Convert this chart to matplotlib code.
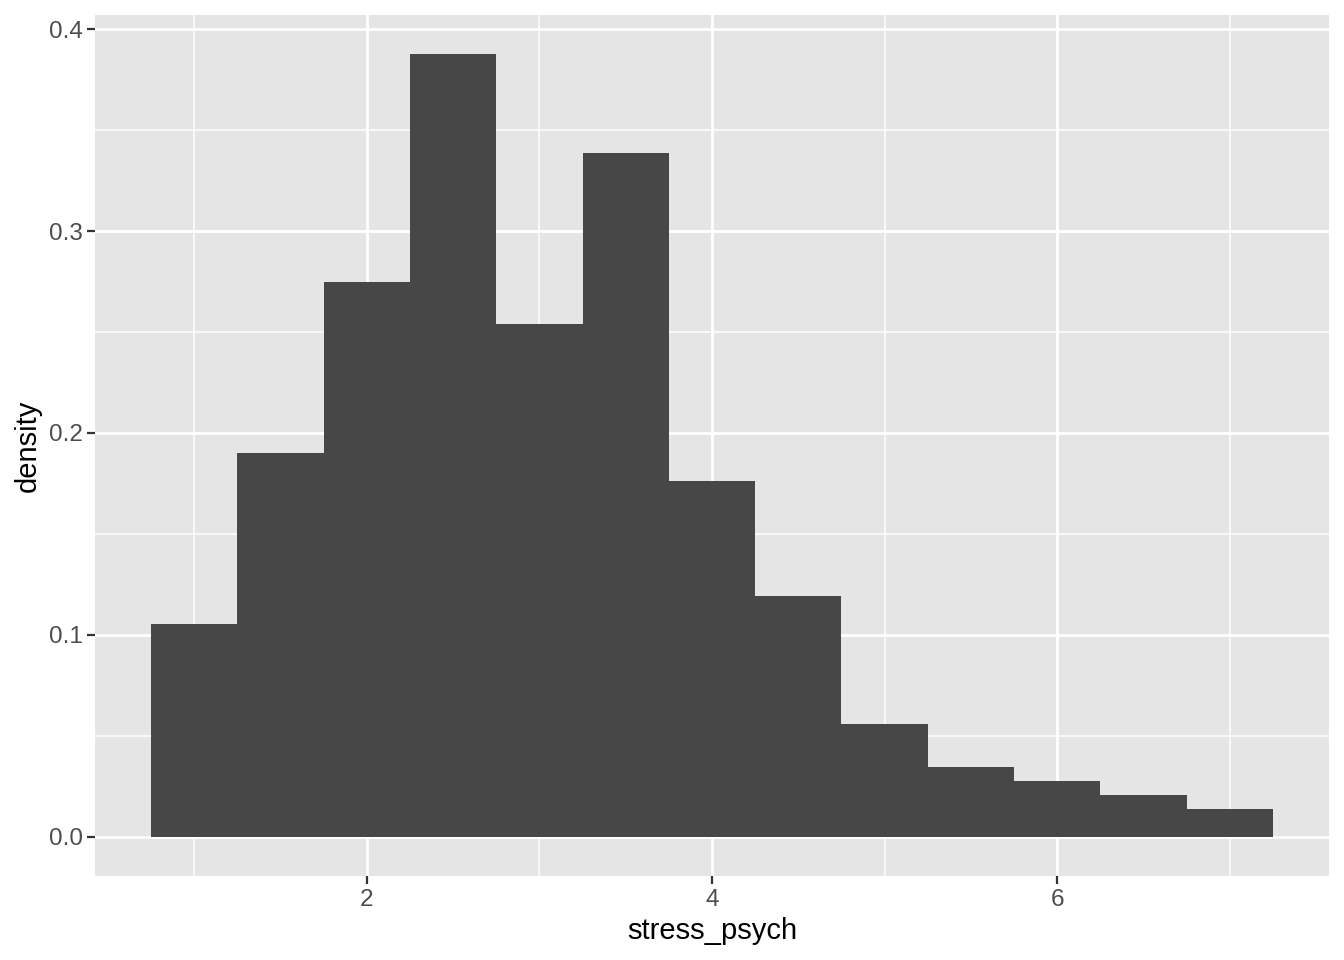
import numpy as np
import matplotlib
matplotlib.use("Agg")
import matplotlib.pyplot as plt

plt.rcParams['font.family'] = ['Liberation Sans', 'DejaVu Sans']

# histogram bins (stress_psych), width 0.5
bin_edges = np.arange(0.75, 7.26, 0.5)
density = [0.1056, 0.1903, 0.2746, 0.3876, 0.2538, 0.3385, 0.1760,
           0.1195, 0.0560, 0.0347, 0.0278, 0.0208, 0.0139]
x_ticks = [2, 4, 6]
y_ticks = [0.0, 0.1, 0.2, 0.3, 0.4]

fig = plt.figure(figsize=(13.44, 9.6), dpi=100)
ax = fig.add_axes([95/1344, 1 - 876/960, (1329 - 95)/1344, (876 - 15)/960])
ax.set_facecolor('#E5E5E5')

# grid
for xm in [1, 3, 5, 7]:
    ax.axvline(xm, color='white', lw=1.1, zorder=0)
for ym in [0.05, 0.15, 0.25, 0.35]:
    ax.axhline(ym, color='white', lw=1.1, zorder=0)
for xm in x_ticks:
    ax.axvline(xm, color='white', lw=2.1, zorder=0)
for ym in y_ticks:
    ax.axhline(ym, color='white', lw=2.1, zorder=0)

ax.bar(bin_edges[:-1], density, width=np.diff(bin_edges), align='edge',
       color='#474747', edgecolor='none', zorder=2)

lo, hi = bin_edges[0], bin_edges[-1]
pad = (hi - lo) * 0.05
ax.set_xlim(lo - pad, hi + pad)
ymax = max(density)
ax.set_ylim(-ymax * 0.05, ymax * 1.05)

ax.set_xticks(x_ticks)
ax.set_xticklabels([str(v) for v in x_ticks])
ax.set_yticks(y_ticks)
ax.set_yticklabels([f"{v:.1f}" for v in y_ticks])
ax.tick_params(length=6, width=1.6, color='#333333', labelcolor='#4D4D4D',
               labelsize=17.5, pad=3)
for s in ax.spines.values():
    s.set_visible(False)

ax.set_xlabel('stress_psych', fontsize=21, color='black', labelpad=5)
ax.set_ylabel('density', fontsize=21, color='black', labelpad=5)

fig.savefig('out.png', dpi=100)
